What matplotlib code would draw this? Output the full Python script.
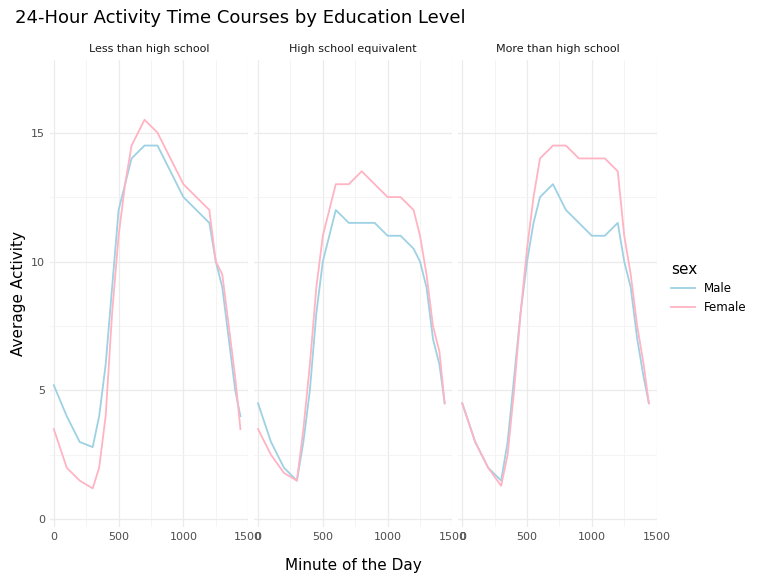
import numpy as np
import matplotlib.pyplot as plt

minutes = [0, 100, 200, 300, 350, 400, 450, 500, 550, 600, 700, 800, 900, 1000, 1100, 1200, 1250, 1300, 1350, 1400, 1440]
panels = ["Less than high school", "High school equivalent", "More than high school"]

male = {
    "Less than high school": [5.2, 4.0, 3.0, 2.8, 4.0, 6.0, 9.0, 12.0, 13.0, 14.0, 14.5, 14.5, 13.5, 12.5, 12.0, 11.5, 10.0, 9.0, 7.0, 5.0, 4.0],
    "High school equivalent": [4.5, 3.0, 2.0, 1.5, 3.0, 5.0, 8.0, 10.0, 11.0, 12.0, 11.5, 11.5, 11.5, 11.0, 11.0, 10.5, 10.0, 9.0, 7.0, 6.0, 4.5],
    "More than high school": [4.5, 3.0, 2.0, 1.5, 3.0, 5.5, 8.0, 10.0, 11.5, 12.5, 13.0, 12.0, 11.5, 11.0, 11.0, 11.5, 10.0, 9.0, 7.0, 5.5, 4.5],
}
female = {
    "Less than high school": [3.5, 2.0, 1.5, 1.2, 2.0, 4.0, 8.0, 11.0, 13.0, 14.5, 15.5, 15.0, 14.0, 13.0, 12.5, 12.0, 10.0, 9.5, 7.5, 5.5, 3.5],
    "High school equivalent": [3.5, 2.5, 1.8, 1.5, 3.5, 6.0, 9.0, 11.0, 12.0, 13.0, 13.0, 13.5, 13.0, 12.5, 12.5, 12.0, 11.0, 9.5, 7.5, 6.5, 4.5],
    "More than high school": [4.5, 3.0, 2.0, 1.3, 2.5, 5.0, 8.0, 10.5, 12.5, 14.0, 14.5, 14.5, 14.0, 14.0, 14.0, 13.5, 11.0, 9.5, 7.5, 6.0, 4.5],
}

male_col = "#9DD1E3"
female_col = "#FFB3C3"

fig, axes = plt.subplots(1, 3, figsize=(7.68, 5.76), dpi=100, sharey=True)
fig.subplots_adjust(left=0.065, right=0.855, bottom=0.085, top=0.895, wspace=0.03)

for ax, name in zip(axes, panels):
    ax.plot(minutes, male[name], color=male_col, lw=1.3, label="Male")
    ax.plot(minutes, female[name], color=female_col, lw=1.3, label="Female")
    ax.set_xlim(-30, 1490)
    ax.set_ylim(-0.3, 17.8)
    ax.set_xticks([0, 500, 1000, 1500])
    ax.set_xticks([250, 750, 1250], minor=True)
    ax.set_yticks([0, 5, 10, 15])
    ax.set_yticks([2.5, 7.5, 12.5], minor=True)
    ax.grid(True, which="major", color="#EBEBEB", lw=0.9)
    ax.grid(True, which="minor", color="#F3F3F3", lw=0.6)
    ax.set_axisbelow(True)
    for s in ax.spines.values():
        s.set_visible(False)
    ax.tick_params(length=0, labelsize=8, colors="#4D4D4D", which="both")
    ax.set_title(name, fontsize=8, color="#1A1A1A", pad=6)

fig.text(0.46, 0.01, "Minute of the Day", ha="center", fontsize=11)
axes[0].set_ylabel("Average Activity", fontsize=11)
fig.suptitle("24-Hour Activity Time Courses by Education Level", x=0.02, y=0.985, ha="left", fontsize=13)
h, l = axes[0].get_legend_handles_labels()
leg = fig.legend(h, l, title="sex", loc="center left", bbox_to_anchor=(0.86, 0.5), frameon=False, fontsize=8.5, title_fontsize=11)
leg._legend_box.align = "left"

fig.savefig("out.png")
